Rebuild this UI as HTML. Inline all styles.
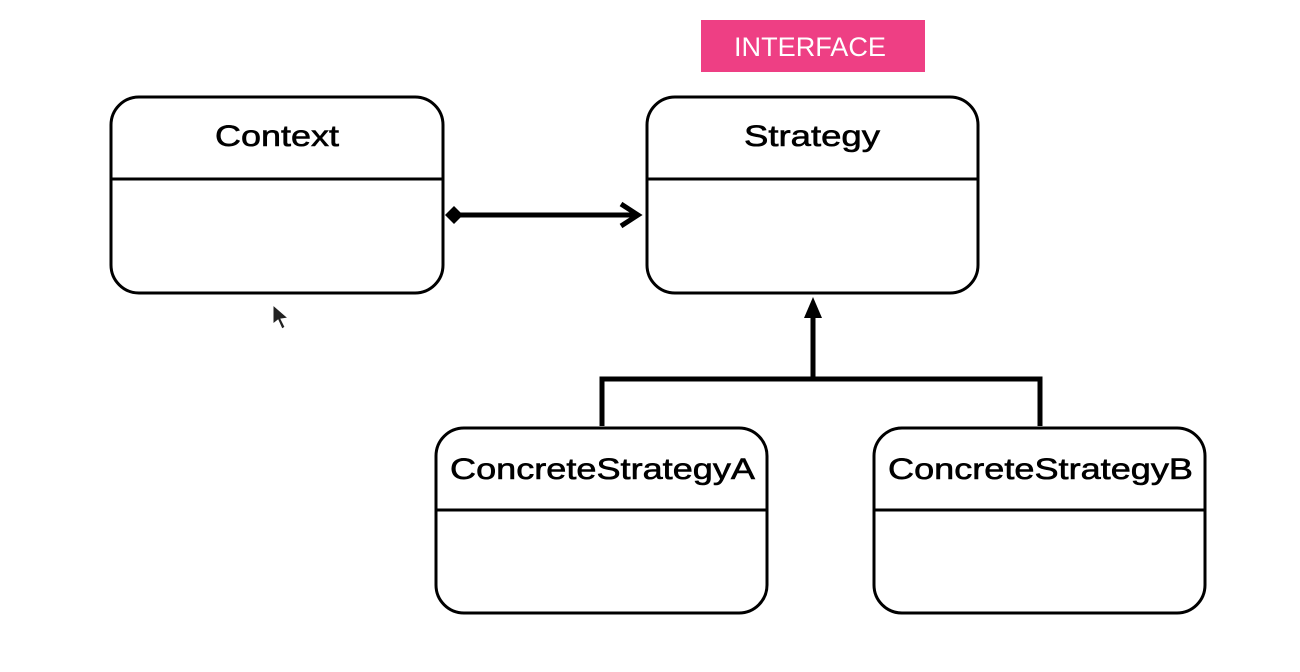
<!DOCTYPE html>
<html><head><meta charset="utf-8"><style>
html,body{margin:0;padding:0;background:#fff;width:1300px;height:672px;overflow:hidden}
svg{display:block}
text{font-family:"Liberation Sans","DejaVu Sans",sans-serif;fill:#000}
.l{font-size:30px;stroke:#000;stroke-width:0.6px}
</style></head><body>
<svg width="1300" height="672" viewBox="0 0 1300 672" xmlns="http://www.w3.org/2000/svg">
<rect x="701" y="20" width="224" height="52" fill="#EE3F84"/>
<text x="734" y="56" font-size="27" textLength="152" lengthAdjust="spacingAndGlyphs" style="fill:#fff">INTERFACE</text>

<g fill="none" stroke="#000" stroke-width="3">
<rect x="111" y="97" width="332" height="196" rx="28"/>
<line x1="111" y1="179" x2="443" y2="179"/>
<rect x="647" y="97" width="331" height="196" rx="28"/>
<line x1="647" y1="179" x2="978" y2="179"/>
<rect x="436" y="428" width="331" height="185" rx="28"/>
<line x1="436" y1="510" x2="767" y2="510"/>
<rect x="874" y="428" width="331" height="185" rx="28"/>
<line x1="874" y1="510" x2="1205" y2="510"/>
</g>

<text class="l" x="215" y="146" textLength="124" lengthAdjust="spacingAndGlyphs">Context</text>
<text class="l" x="744" y="146" textLength="136" lengthAdjust="spacingAndGlyphs">Strategy</text>
<text class="l" x="450" y="479" textLength="305" lengthAdjust="spacingAndGlyphs">ConcreteStrategyA</text>
<text class="l" x="888" y="479" textLength="305" lengthAdjust="spacingAndGlyphs">ConcreteStrategyB</text>

<line x1="455" y1="215" x2="638" y2="215" stroke="#000" stroke-width="5"/>
<polygon points="445,215 454,206 463,215 454,224" fill="#000"/>
<polyline points="621,204 638,215 621,226" fill="none" stroke="#000" stroke-width="5"/>

<polyline points="602,426 602,379 1040,379 1040,426" fill="none" stroke="#000" stroke-width="5"/>
<line x1="813" y1="379" x2="813" y2="314" stroke="#000" stroke-width="5"/>
<polygon points="813,297 804,318 822,318" fill="#000"/>

<polygon points="273,305 273,324 278,320 282,329 285,327 281,319 288,318" fill="#222" stroke="#fff" stroke-width="1"/>
</svg>
</body></html>
